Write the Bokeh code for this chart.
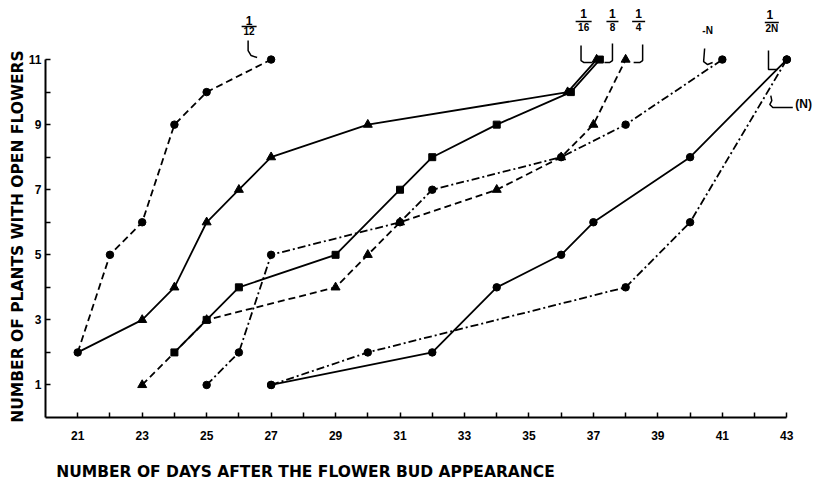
import math
from bokeh.plotting import figure
from bokeh.models import FixedTicker
from bokeh.core.properties import value
from bokeh.embed import file_html
from bokeh.resources import INLINE

# ---------------- data ----------------
days_1_12 = [21, 22, 23, 24, 25, 27]
plants_1_12 = [2, 5, 6, 9, 10, 11]

days_1_16 = [21, 23, 24, 25, 26, 27, 30, 36.2, 37.1]
plants_1_16 = [2, 3, 4, 6, 7, 8, 9, 10, 11]

days_1_8 = [24, 25, 26, 29, 31, 32, 34, 36.3, 37.2]
plants_1_8 = [2, 3, 4, 5, 7, 8, 9, 10, 11]

days_1_4 = [23, 25, 29, 30, 31, 34, 36, 37, 38]
plants_1_4 = [1, 3, 4, 5, 6, 7, 8, 9, 11]

days_minus_N = [25, 26, 27, 31, 32, 36, 38, 41]
plants_minus_N = [1, 2, 5, 6, 7, 8, 9, 11]

days_1_2N = [27, 32, 34, 36, 37, 40, 43]
plants_1_2N = [1, 2, 4, 5, 6, 8, 11]

days_N = [27, 30, 38, 40, 43]
plants_N = [1, 2, 4, 6, 11]

x_major_ticks = [21, 23, 25, 27, 29, 31, 33, 35, 37, 39, 41, 43]
x_minor_ticks = [22, 24, 26, 28, 30, 32, 34, 36, 38, 40, 42]
y_major_ticks = [1, 3, 5, 7, 9, 11]
y_minor_ticks = [2, 4, 6, 8, 10]

x_title = "NUMBER OF DAYS AFTER THE FLOWER BUD APPEARANCE"
y_title = "NUMBER OF PLANTS WITH OPEN FLOWERS"

# ---------------- layout ----------------
W, H = 813, 484
AX_X, AX_Y = 45, 417          # pixel position of the axes corner (day 20, 0 plants)
SX, SY = 32.23, 32.54         # pixels per day / per plant
X0 = 20 - AX_X / SX
X1 = 20 + (W - AX_X) / SX
Y0 = -(H - AX_Y) / SY
Y1 = AX_Y / SY

p = figure(width=W, height=H, x_range=(X0, X1), y_range=(Y0, Y1),
           output_backend="svg", toolbar_location=None,
           min_border_left=0, min_border_right=0, min_border_top=0,
           min_border_bottom=0)
p.outline_line_color = None
p.grid.visible = False
p.background_fill_color = "white"
p.border_fill_color = "white"

TICK_FONT = "Liberation Sans"
for ax, maj, mnr, bnd, loc in ((p.xaxis[0], x_major_ticks, x_minor_ticks, (20, 43), 0),
                               (p.yaxis[0], y_major_ticks, y_minor_ticks, (0, 11), 20)):
    ax.fixed_location = loc
    ax.ticker = FixedTicker(ticks=maj, minor_ticks=mnr)
    ax.bounds = bnd
    ax.axis_line_width = 2
    ax.axis_line_color = "black"
    ax.major_tick_in = 5
    ax.major_tick_out = 0
    ax.minor_tick_in = 5
    ax.minor_tick_out = 0
    ax.major_tick_line_width = 1.5
    ax.minor_tick_line_width = 1.5
    ax.major_label_text_font = TICK_FONT
    ax.major_label_text_font_style = "bold"
    ax.major_label_text_font_size = "12px"
    ax.major_label_text_color = "black"
p.xaxis.major_label_standoff = 13
p.yaxis.major_label_standoff = 4

DASHED = "7 4"
DASHDOT = "8 3 2 3"
series = [
    (days_1_16, plants_1_16, "solid", "triangle", 1),
    (days_1_8, plants_1_8, "solid", "square", 0),
    (days_1_4, plants_1_4, DASHED, "triangle", 0),
    (days_minus_N, plants_minus_N, DASHDOT, "circle", 0),
    (days_1_2N, plants_1_2N, "solid", "circle", 0),
    (days_N, plants_N, DASHDOT, "circle", 0),
    (days_1_12, plants_1_12, DASHED, "circle", 0),
]
msize = {"circle": 7.5, "triangle": 9, "square": 7}
for xs, ys, dash, mk, start in series:
    p.line(xs, ys, line_color="black", line_width=1.8, line_dash=dash)
for xs, ys, dash, mk, start in series:
    p.scatter(xs[start:], ys[start:], marker=mk, size=msize[mk],
              fill_color="black", line_color="black")

# ---------------- annotations (offsets in pixels from a series' end point) ----------------
def off(x, y, dx, dy):
    return x + dx / SX, y - dy / SY

def text_at(x, y, txt, size, align="center", font=TICK_FONT, angle=0.0):
    p.text([x], [y], text=[txt], text_font=value(font),
           text_font_style="bold", text_font_size=size, angle=angle,
           text_align=align, text_baseline="middle", text_color="black")

def fraction(xs, ys, num, den, dx, dy_num, dy_bar, dy_den, bar_w, num_dx=0):
    ex, ey = xs[-1], ys[-1]
    nx, ny = off(ex, ey, dx + num_dx, dy_num)
    text_at(nx, ny, num, "12px")
    bx0, by = off(ex, ey, dx - bar_w / 2, dy_bar)
    bx1, _ = off(ex, ey, dx + bar_w / 2, dy_bar)
    p.segment([bx0], [by], [bx1], [by], line_color="black", line_width=1.6)
    dxx, dyy = off(ex, ey, dx, dy_den)
    text_at(dxx, dyy, den, "10px")

def hook(xs, ys, pts):
    ex, ey = xs[-1], ys[-1]
    hx, hy = [], []
    for dx, dy in pts:
        a, b = off(ex, ey, dx, dy)
        hx.append(a)
        hy.append(b)
    p.line(hx, hy, line_color="black", line_width=1.5)

fraction(days_1_12, plants_1_12, "1", "12", -22, -39.5, -33, -29, 15)
hook(days_1_12, plants_1_12, [(-23, -19), (-23, -9), (-20, -4), (-14, -2)])

fraction(days_1_16, plants_1_16, "1", "16", -13, -46, -38, -32.5, 16)
hook(days_1_16, plants_1_16, [(-15.6, -14), (-15.6, 1), (-12.6, 3), (-4.6, 3)])

fraction(days_1_8, plants_1_8, "1", "8", 12.6, -46, -38, -32.5, 12)
hook(days_1_8, plants_1_8, [(12.6, -16), (12.6, 1), (9.6, 3), (4.6, 3)])

fraction(days_1_4, plants_1_4, "1", "4", 13, -46, -38, -32.5, 13)
hook(days_1_4, plants_1_4, [(17, -15), (17, 1), (14, 3), (8, 3)])

mx, my = off(days_minus_N[-1], plants_minus_N[-1], -14.7, -29)
text_at(mx, my, "-N", "10px")
hook(days_minus_N, plants_minus_N, [(-17.7, -11), (-18.7, 2), (-14.7, 5), (-9.7, 3)])

fraction(days_1_2N, plants_1_2N, "1", "2N", -15, -45, -37, -31.5, 14, num_dx=-2)
hook(days_1_2N, plants_1_2N, [(-18.3, -9), (-18.3, 10), (-9.3, 10)])

nx, ny = off(days_N[-1], plants_N[-1], 8.5, 44)
text_at(nx, ny, "(N)", "12px", align="left")
hook(days_N, plants_N, [(-16, 36), (-15, 41), (-17, 45), (-14, 48), (6, 48)])

# ---------------- axis titles ----------------
TITLE_FONT = "DejaVu Sans"
tx, ty = off(20, 0, 305 - AX_X, 471 - AX_Y)
text_at(tx, ty, x_title, "15.5px", font=TITLE_FONT)
vx, vy = off(20, 0, 17 - AX_X, 236 - AX_Y)
text_at(vx, vy, y_title, "15.5px", font=TITLE_FONT, angle=math.pi / 2)

open("out.html", "w").write(file_html(p, INLINE))
